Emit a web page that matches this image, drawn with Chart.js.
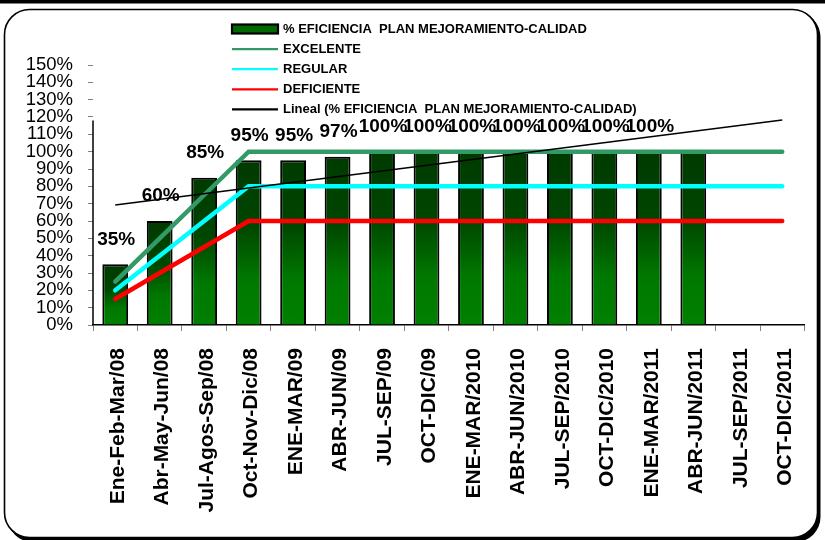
<!DOCTYPE html>
<html><head><meta charset="utf-8">
<script src="https://cdn.jsdelivr.net/npm/chart.js@4.4.1/dist/chart.umd.min.js"></script>
<style>html,body{margin:0;padding:0;background:#fff}#wrap{width:825px;height:540px;position:relative}canvas{display:block}</style>
</head><body><div id="wrap"><canvas id="c" width="825" height="540"></canvas></div>
<script>
const categories = ['Ene-Feb-Mar/08','Abr-May-Jun/08','Jul-Agos-Sep/08','Oct-Nov-Dic/08','ENE-MAR/09','ABR-JUN/09','JUL-SEP/09','OCT-DIC/09','ENE-MAR/2010','ABR-JUN/2010','JUL-SEP/2010','OCT-DIC/2010','ENE-MAR/2011','ABR-JUN/2011','JUL-SEP/2011','OCT-DIC/2011'];
const eficiencia = [35,60,85,95,95,97,100,100,100,100,100,100,100,100,null,null];
const etiquetas = ['35%','60%','85%','95%','95%','97%','100%','100%','100%','100%','100%','100%','100%','','',''];
const excelente = [25,50,75,100,100,100,100,100,100,100,100,100,100,100,100,100];
const regular = [20,40,60,80,80,80,80,80,80,80,80,80,80,80,80,80];
const deficiente = [15,30,45,60,60,60,60,60,60,60,60,60,60,60,60,60];
const tendenciaInicio = 69.2;
const tendenciaFin = 118.3;
const yTickLabels = ['0%','10%','20%','30%','40%','50%','60%','70%','80%','90%','100%','110%','120%','130%','140%','150%'];
const seriesNames = ['% EFICIENCIA  PLAN MEJORAMIENTO-CALIDAD','EXCELENTE','REGULAR','DEFICIENTE','Lineal (% EFICIENCIA  PLAN MEJORAMIENTO-CALIDAD)'];

Chart.defaults.font.family = '"Liberation Sans", Arial, sans-serif';

function barFill(ctx){
  const chart = ctx.chart, ys = chart.scales && chart.scales.y;
  if (!ys || ctx.raw == null) return '#006000';
  const top = ys.getPixelForValue(ctx.raw), bottom = ys.getPixelForValue(0);
  if (!isFinite(top) || !isFinite(bottom) || bottom - top < 1) return '#006000';
  const g = chart.ctx.createLinearGradient(0, top, 0, bottom);
  g.addColorStop(0, '#003a00');
  g.addColorStop(0.4, '#004600');
  g.addColorStop(0.72, '#007800');
  g.addColorStop(1, '#008000');
  return g;
}

function roundRect(c, x, y, w, h, r){
  c.beginPath();
  c.moveTo(x + r, y);
  c.lineTo(x + w - r, y);
  c.arcTo(x + w, y, x + w, y + r, r);
  c.lineTo(x + w, y + h - r);
  c.arcTo(x + w, y + h, x + w - r, y + h, r);
  c.lineTo(x + r, y + h);
  c.arcTo(x, y + h, x, y + h - r, r);
  c.lineTo(x, y + r);
  c.arcTo(x, y, x + r, y, r);
  c.closePath();
}

const framePlugin = {
  id: 'frame',
  beforeDraw(chart){
    const c = chart.ctx;
    c.save();
    c.fillStyle = '#fff';
    c.fillRect(0, 0, chart.width, chart.height);
    c.fillStyle = '#000';
    c.fillRect(0, 0, chart.width, 3.5);
    roundRect(c, 7.5, 12, 813, 530, 25);
    c.fillStyle = '#000';
    c.fill();
    roundRect(c, 4.5, 9.5, 813, 528, 25);
    c.fillStyle = '#fff';
    c.fill();
    c.lineWidth = 1.6;
    c.strokeStyle = '#000';
    c.stroke();
    c.restore();
  }
};

const yAxisLinePlugin = {
  id: 'yAxisLine',
  beforeDatasetsDraw(chart){
    const ys = chart.scales.y, c = chart.ctx;
    const x = chart.chartArea.left;
    c.save();
    c.strokeStyle = '#000';
    c.lineWidth = 1.5;
    c.beginPath();
    c.moveTo(x, ys.getPixelForValue(0));
    c.lineTo(x, ys.getPixelForValue(118));
    c.stroke();
    c.restore();
  }
};

const dataLabelPlugin = {
  id: 'barLabels',
  afterDatasetDraw(chart, args){
    if (args.index !== 0) return;
    const meta = args.meta, c = chart.ctx;
    c.save();
    c.font = 'bold 19px "Liberation Sans", Arial, sans-serif';
    c.fillStyle = '#000';
    c.textAlign = 'center';
    c.textBaseline = 'middle';
    meta.data.forEach((el, i) => {
      if (eficiencia[i] == null || !etiquetas[i]) return;
      c.fillText(etiquetas[i], el.x + 1, el.y - 25);
    });
    c.restore();
  }
};

const legendPlugin = {
  id: 'customLegend',
  afterDraw(chart){
    const c = chart.ctx;
    const x0 = 232, x1 = 278, tx = 283, y0 = 29, step = 20.1;
    c.save();
    c.font = 'bold 13px "Liberation Sans", Arial, sans-serif';
    c.textBaseline = 'middle';
    c.textAlign = 'left';
    chart.data.datasets.forEach((ds, i) => {
      const y = y0 + i * step;
      if (ds.type === 'bar') {
        c.fillStyle = '#006800';
        c.fillRect(x0, y - 4.5, x1 - x0, 9);
        c.strokeStyle = '#000';
        c.lineWidth = 2.2;
        c.strokeRect(x0, y - 4.5, x1 - x0, 9);
      } else {
        c.strokeStyle = ds.borderColor;
        c.lineWidth = 2.2;
        c.beginPath();
        c.moveTo(x0, y);
        c.lineTo(x1, y);
        c.stroke();
      }
      c.fillStyle = '#000';
      c.fillText(ds.label, tx, y + 0.5);
    });
    c.restore();
  }
};

new Chart(document.getElementById('c'), {
  data: {
    labels: categories,
    datasets: [
      { type: 'bar', label: seriesNames[0], data: eficiencia, backgroundColor: barFill, borderColor: '#000', borderWidth: 2, barPercentage: 0.58, categoryPercentage: 1, order: 5 },
      { type: 'line', label: seriesNames[1], data: excelente, borderColor: '#339966', borderWidth: 4.5, pointRadius: 0, tension: 0, borderCapStyle: 'round', fill: false, order: 2 },
      { type: 'line', label: seriesNames[2], data: regular, borderColor: '#00ffff', borderWidth: 4.5, pointRadius: 0, tension: 0, borderCapStyle: 'round', fill: false, order: 3 },
      { type: 'line', label: seriesNames[3], data: deficiente, borderColor: '#ff0000', borderWidth: 4.5, pointRadius: 0, tension: 0, borderCapStyle: 'round', fill: false, order: 4 },
      { type: 'line', label: seriesNames[4], data: [{x: categories[0], y: tendenciaInicio}, {x: categories[categories.length - 1], y: tendenciaFin}], borderColor: '#000', borderWidth: 1.6, pointRadius: 0, tension: 0, fill: false, order: 1 }
    ]
  },
  options: {
    responsive: false,
    animation: false,
    devicePixelRatio: 1,
    layout: { padding: { left: 0, right: 18, top: 65, bottom: 0 } },
    plugins: { legend: { display: false }, tooltip: { enabled: false } },
    scales: {
      x: {
        type: 'category',
        offset: true,
        grid: { display: true, drawOnChartArea: false, drawTicks: true, tickLength: 6, color: '#808080', offset: true },
        border: { display: true, color: '#000', width: 1.5 },
        ticks: { autoSkip: false, maxRotation: 90, minRotation: 90, padding: 17, labelOffset: 3, color: '#000', font: { size: 21, weight: 'bold' } },
        afterFit(scale){ scale.height = 215; }
      },
      y: {
        min: 0, max: 150,
        grid: { display: true, drawOnChartArea: false, drawTicks: true, tickLength: 5, color: '#808080' },
        border: { display: false },
        ticks: { stepSize: 10, autoSkip: false, padding: 15, color: '#000', font: { size: 18.5 }, callback: (v, i) => yTickLabels[i] },
        afterFit(scale){ scale.width = 93; }
      }
    }
  },
  plugins: [framePlugin, yAxisLinePlugin, dataLabelPlugin, legendPlugin]
});
</script>
</body></html>
